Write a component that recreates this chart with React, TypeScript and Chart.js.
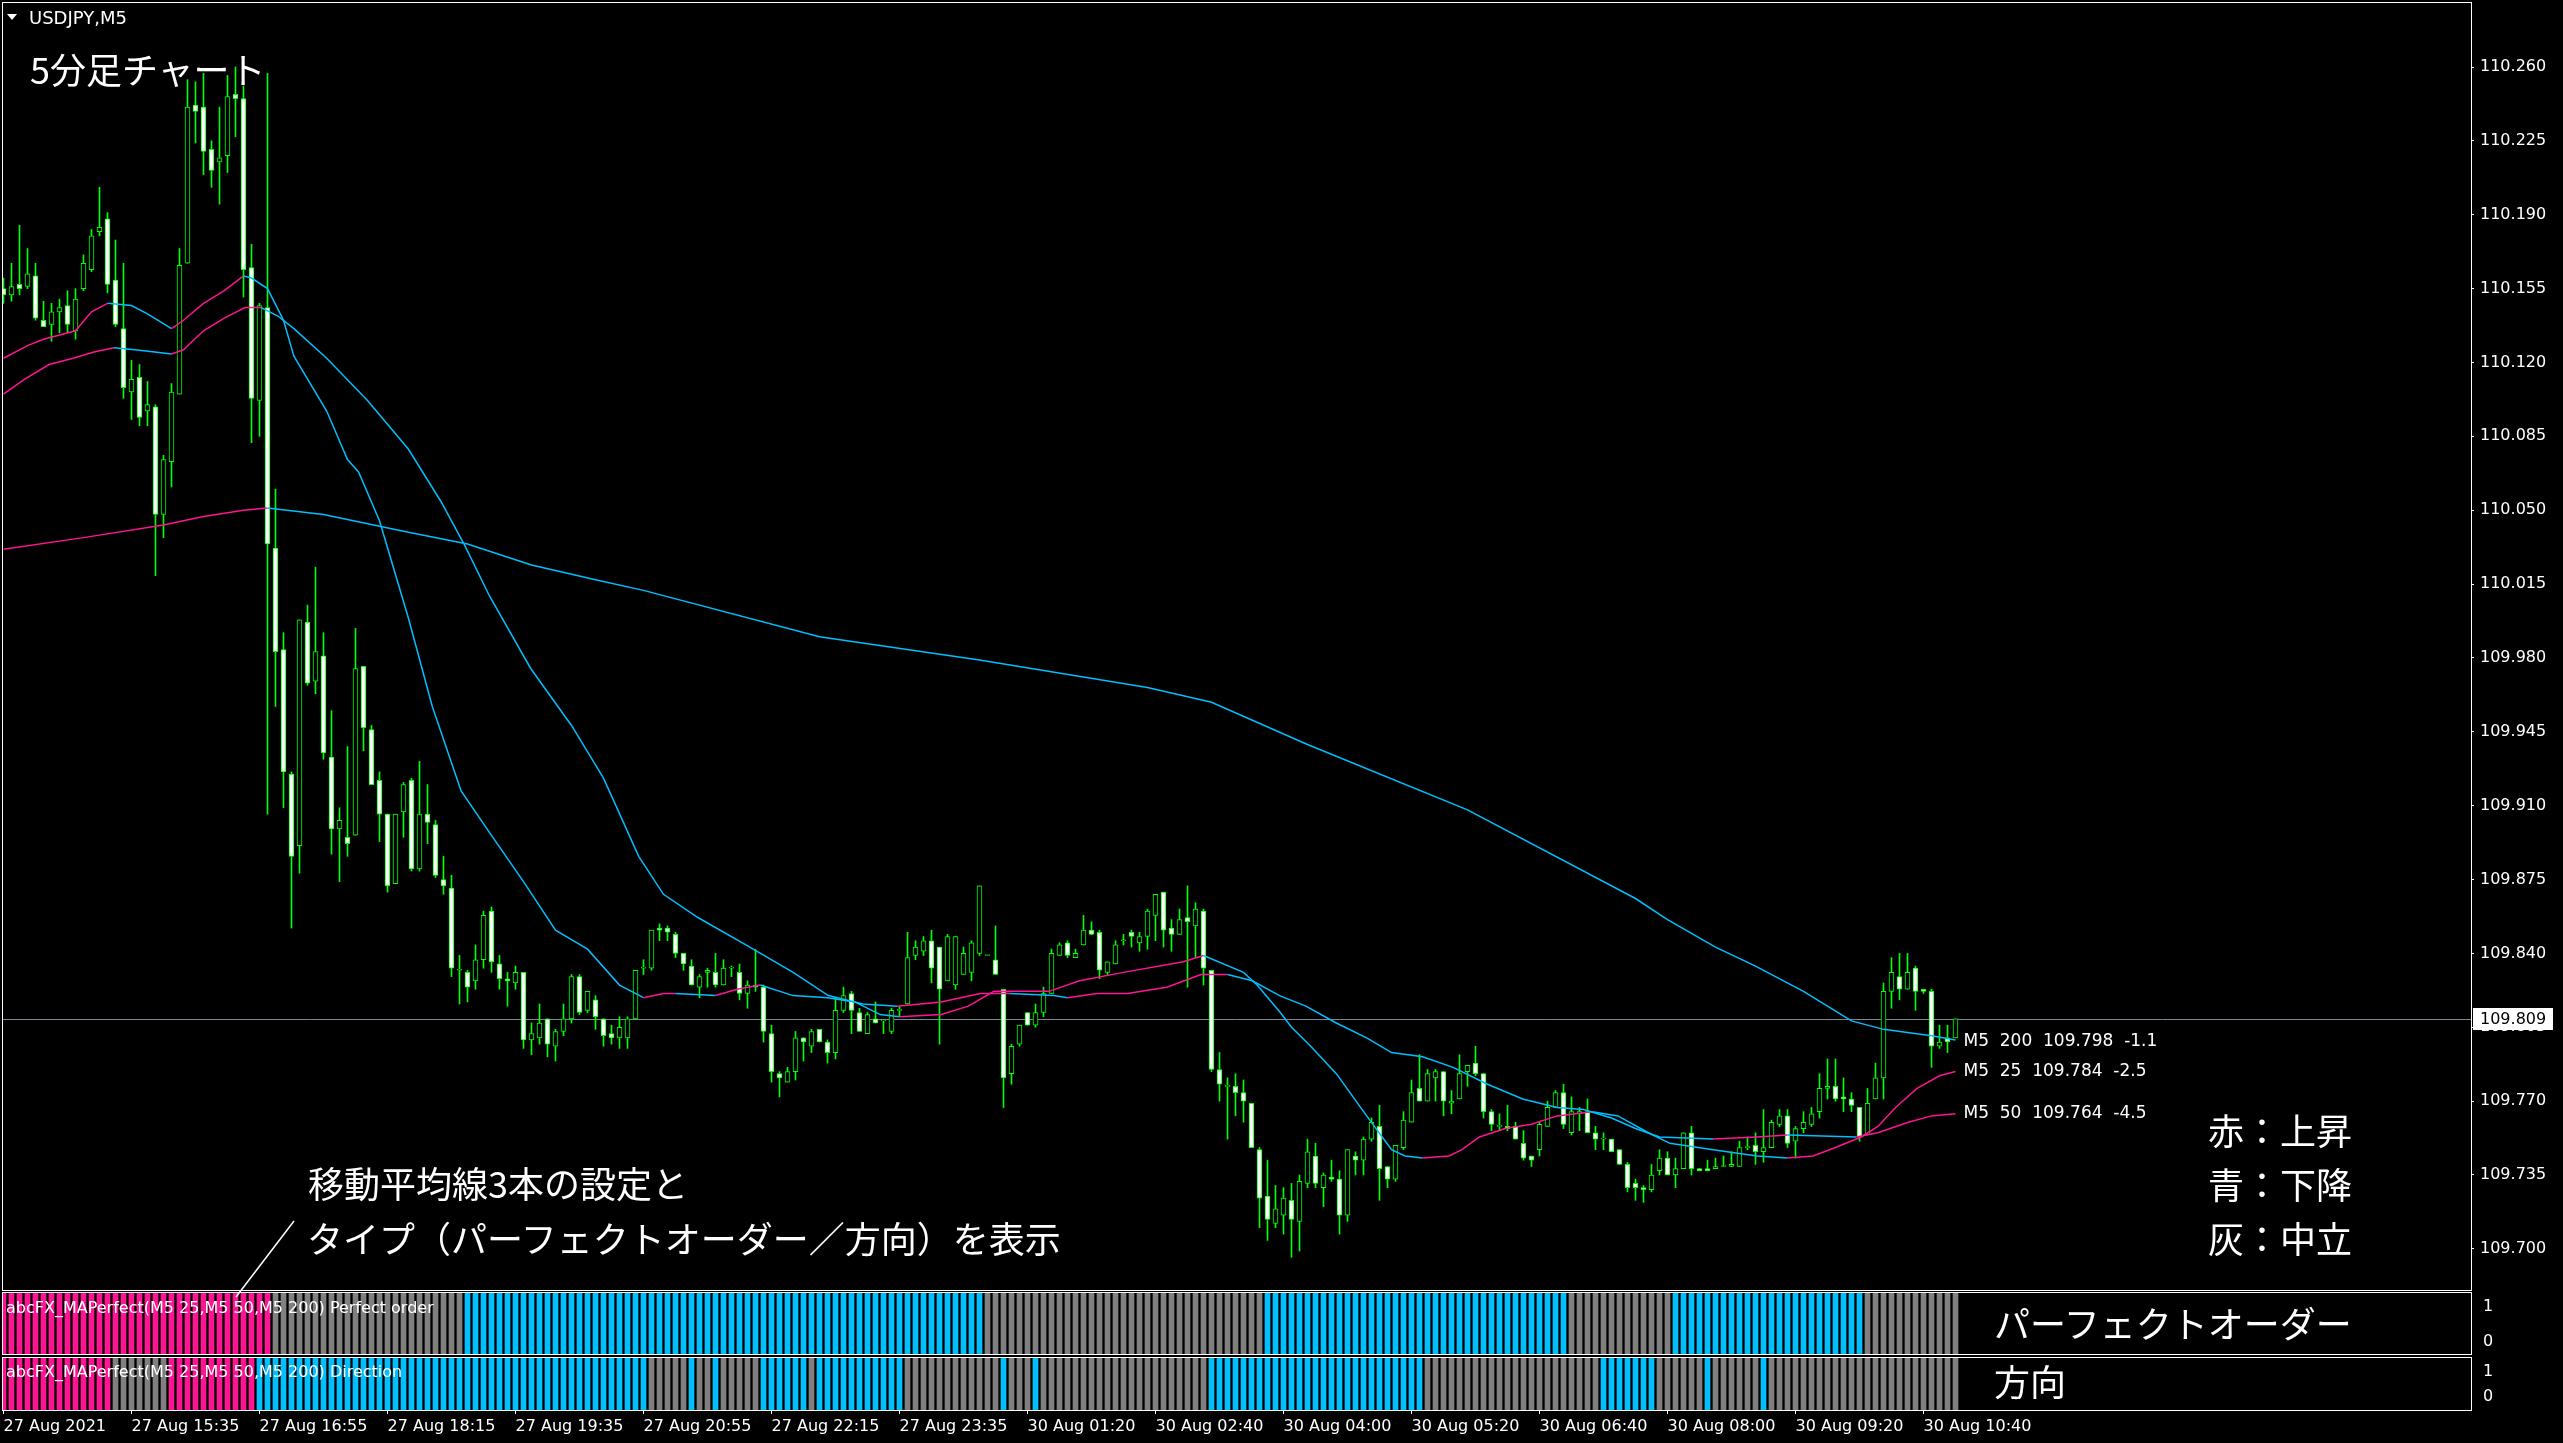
import React, { useEffect, useRef } from 'react';
import { Chart, registerables } from 'chart.js';

Chart.register(...registerables);

// ---------------- data ----------------
const symbolTitle = 'USDJPY,M5';

const opens = [
  110.155,110.152,110.157,110.156,110.161,110.140,110.138,110.144,110.147,110.135,
  110.155,110.164,110.182,110.188,110.159,110.136,110.106,110.113,110.097,110.099,
  110.048,110.073,110.105,110.167,110.242,110.241,110.221,110.215,110.218,110.247,
  110.245,110.165,110.102,110.146,110.032,109.984,109.925,109.891,109.997,109.969,
  109.981,109.933,109.899,109.895,109.896,109.976,109.946,109.922,109.906,109.873,
  109.907,109.922,109.880,109.906,109.901,109.875,109.871,109.832,109.831,109.827,
  109.837,109.860,109.835,109.828,109.826,109.831,109.799,109.800,109.809,109.796,
  109.803,109.809,109.829,109.813,109.818,109.809,109.802,109.800,109.800,109.809,
  109.833,109.833,109.852,109.852,109.849,109.840,109.834,109.824,109.831,109.831,
  109.825,109.833,109.831,109.821,109.825,109.824,109.802,109.783,109.779,109.784,
  109.800,109.796,109.804,109.798,109.793,109.813,109.821,109.812,109.802,109.809,
  109.808,109.803,109.813,109.816,109.839,109.841,109.846,109.843,109.827,109.825,
  109.830,109.831,109.840,109.839,109.837,109.823,109.783,109.797,109.812,109.806,
  109.812,109.821,109.839,109.845,109.838,109.844,109.851,109.850,109.831,109.835,
  109.846,109.850,109.845,109.848,109.858,109.869,109.852,109.849,109.857,109.853,
  109.860,109.832,109.785,109.777,109.777,109.774,109.769,109.747,109.725,109.712,
  109.716,109.723,109.713,109.731,109.744,109.729,109.734,109.733,109.716,109.744,
  109.742,109.752,109.758,109.739,109.733,109.748,109.760,109.776,109.770,109.781,
  109.784,109.769,109.771,109.784,109.788,109.783,109.765,109.758,109.758,109.758,
  109.750,109.744,109.747,109.758,109.767,109.774,109.755,109.764,109.765,109.755,
  109.752,109.752,109.747,109.740,109.731,109.729,109.728,109.737,109.743,109.735,
  109.738,109.755,109.738,109.738,109.738,109.739,109.739,109.739,109.748,109.749,
  109.746,109.748,109.759,109.763,109.751,109.757,109.759,109.765,109.776,109.777,
  109.772,109.771,109.767,109.754,109.771,109.781,109.822,109.829,109.823,109.833,
  109.823,109.822,109.796,109.800,109.800,
];

const highs = [
  110.160,110.167,110.185,110.174,110.167,110.149,110.148,110.150,110.154,110.155,
  110.171,110.183,110.203,110.191,110.178,110.167,110.121,110.119,110.111,110.100,
  110.076,110.110,110.174,110.254,110.253,110.257,110.225,110.241,110.256,110.260,
  110.251,110.176,110.148,110.257,110.060,109.992,109.926,109.998,110.005,110.023,
  109.992,109.955,109.909,109.938,109.994,109.976,109.948,109.926,109.906,109.906,
  109.921,109.923,109.931,109.920,109.903,109.886,109.877,109.839,109.832,109.844,
  109.860,109.862,109.839,109.831,109.834,109.831,109.807,109.816,109.809,109.804,
  109.816,109.830,109.830,109.822,109.820,109.809,109.806,109.810,109.810,109.832,
  109.837,109.851,109.854,109.853,109.850,109.840,109.837,109.830,109.833,109.840,
  109.837,109.834,109.835,109.827,109.842,109.825,109.806,109.784,109.786,109.803,
  109.800,109.804,109.804,109.799,109.819,109.824,109.822,109.814,109.812,109.817,
  109.808,109.814,109.815,109.850,109.846,109.848,109.851,109.843,109.849,109.848,
  109.843,109.846,109.872,109.839,109.853,109.823,109.797,109.806,109.812,109.816,
  109.824,109.842,109.845,109.846,109.842,109.858,109.855,109.851,109.836,109.846,
  109.849,109.851,109.850,109.861,109.868,109.869,109.856,109.861,109.872,109.864,
  109.861,109.832,109.793,109.781,109.783,109.780,109.769,109.748,109.742,109.730,
  109.729,109.731,109.735,109.752,109.750,109.736,109.742,109.737,109.747,109.746,
  109.753,109.762,109.768,109.739,109.749,109.765,109.780,109.792,109.785,109.785,
  109.784,109.775,109.792,109.787,109.796,109.783,109.766,109.764,109.768,109.760,
  109.756,109.744,109.760,109.770,109.775,109.778,109.772,109.767,109.771,109.758,
  109.755,109.752,109.747,109.741,109.733,109.730,109.740,109.747,109.746,109.743,
  109.755,109.758,109.738,109.742,109.743,109.744,109.746,109.751,109.753,109.755,
  109.766,109.761,109.766,109.766,109.758,109.765,109.767,109.783,109.790,109.790,
  109.781,109.774,109.767,109.776,109.788,109.826,109.838,109.840,109.840,109.834,
  109.823,109.823,109.806,109.806,109.809,
];

const lows = [
  110.148,110.149,110.152,110.155,110.140,110.137,110.130,110.134,110.134,110.131,
  110.154,110.163,110.180,110.153,110.137,110.103,110.093,110.090,110.090,110.019,
  110.037,110.061,110.105,110.167,110.224,110.209,110.203,110.195,110.210,110.227,
  110.151,110.082,110.085,109.906,109.957,109.909,109.852,109.878,109.967,109.963,
  109.932,109.887,109.874,109.886,109.896,109.936,109.920,109.893,109.869,109.873,
  109.895,109.879,109.879,109.892,109.876,109.868,109.829,109.816,109.817,109.823,
  109.833,109.831,109.823,109.815,109.823,109.795,109.792,109.797,109.791,109.789,
  109.801,109.807,109.811,109.812,109.804,109.796,109.797,109.795,109.795,109.809,
  109.830,109.832,109.846,109.846,109.838,109.832,109.825,109.819,109.824,109.824,
  109.825,109.829,109.818,109.814,109.822,109.798,109.779,109.772,109.779,109.780,
  109.789,109.793,109.798,109.788,109.790,109.812,109.802,109.803,109.802,109.807,
  109.802,109.802,109.810,109.816,109.837,109.839,109.826,109.797,109.827,109.823,
  109.830,109.827,109.839,109.839,109.830,109.767,109.778,109.796,109.806,109.805,
  109.810,109.821,109.839,109.838,109.838,109.844,109.849,109.828,109.830,109.835,
  109.844,109.843,109.841,109.842,109.846,109.843,109.841,109.849,109.824,109.838,
  109.825,109.784,109.770,109.752,109.763,109.760,109.748,109.710,109.704,109.710,
  109.707,109.696,109.699,109.729,109.729,109.720,109.732,109.707,109.713,109.735,
  109.735,109.751,109.723,109.729,109.732,109.747,109.760,109.770,109.770,109.770,
  109.763,109.764,109.771,109.777,109.782,109.762,109.756,109.756,109.756,109.752,
  109.742,109.739,109.744,109.758,109.767,109.757,109.754,109.756,109.755,109.747,
  109.747,109.746,109.740,109.727,109.723,109.722,109.727,109.735,109.735,109.729,
  109.738,109.735,109.737,109.737,109.738,109.739,109.739,109.739,109.747,109.740,
  109.741,109.748,109.758,109.748,109.743,109.755,109.758,109.762,109.771,109.770,
  109.765,109.765,109.751,109.754,109.771,109.771,109.814,109.818,109.823,109.813,
  109.821,109.786,109.795,109.793,109.800,
];

const closes = [
  110.152,110.156,110.155,110.162,110.141,110.137,110.144,110.146,110.138,110.150,
  110.167,110.180,110.184,110.157,110.138,110.108,110.112,110.094,110.100,110.048,
  110.074,110.106,110.166,110.241,110.239,110.220,110.211,110.217,110.246,110.245,
  110.164,110.103,110.147,110.034,109.983,109.926,109.886,109.998,109.968,109.983,
  109.935,109.899,109.903,109.892,109.975,109.947,109.920,109.906,109.872,109.906,
  109.920,109.880,109.906,109.902,109.877,109.872,109.833,109.832,109.824,109.837,
  109.858,109.836,109.828,109.827,109.831,109.799,109.802,109.807,109.797,109.803,
  109.809,109.829,109.812,109.822,109.810,109.801,109.800,109.805,109.809,109.832,
  109.833,109.851,109.851,109.850,109.840,109.835,109.825,109.829,109.832,109.825,
  109.833,109.833,109.821,109.825,109.824,109.803,109.784,109.781,109.784,109.800,
  109.798,109.803,109.798,109.793,109.813,109.820,109.813,109.803,109.811,109.807,
  109.808,109.813,109.813,109.838,109.843,109.846,109.833,109.823,109.848,109.848,
  109.840,109.845,109.872,109.839,109.830,109.781,109.796,109.806,109.806,109.812,
  109.821,109.840,109.844,109.839,109.840,109.851,109.849,109.832,109.836,109.844,
  109.846,109.848,109.848,109.860,109.868,109.851,109.849,109.856,109.855,109.861,
  109.833,109.785,109.778,109.777,109.774,109.770,109.748,109.724,109.714,109.719,
  109.724,109.714,109.732,109.746,109.731,109.735,109.733,109.716,109.747,109.742,
  109.752,109.760,109.738,109.733,109.749,109.761,109.774,109.770,109.783,109.784,
  109.770,109.770,109.783,109.787,109.783,109.765,109.759,109.758,109.757,109.752,
  109.743,109.742,109.759,109.767,109.774,109.759,109.765,109.765,109.755,109.752,
  109.752,109.746,109.740,109.729,109.729,109.728,109.735,109.743,109.735,109.738,
  109.755,109.738,109.737,109.737,109.739,109.739,109.740,109.748,109.748,109.746,
  109.748,109.760,109.763,109.750,109.757,109.760,109.764,109.776,109.777,109.771,
  109.771,109.768,109.753,109.769,109.781,109.822,109.831,109.823,109.831,109.822,
  109.822,109.796,109.798,109.798,109.809,
];

// moving averages: [bar index, price]
const ma25: [number, number][] = [
  [0,110.122],[3,110.128],[5,110.131],[9,110.135],[11,110.144],[13,110.148],[16,110.147],[18,110.143],
  [21,110.136],[22.5,110.140],[25,110.148],[27.6,110.154],[30,110.161],[31,110.160],[33,110.155],
  [35,110.140],[36.3,110.123],[40.4,110.097],[43,110.074],[44.4,110.068],[47,110.045],[50.6,109.999],
  [53.6,109.957],[57.2,109.917],[60.8,109.897],[65,109.874],[69,109.851],[73,109.842],[77,109.825],
  [80,109.819],[82.5,109.821],[84,109.821],[89,109.820],[91.7,109.823],[94.6,109.825],[98.7,109.820],
  [103,109.819],[106.4,109.817],[109.6,109.811],[112,109.810],[117.2,109.811],[120.6,109.815],
  [123.8,109.822],[127.5,109.822],[130.7,109.822],[134.5,109.827],[140,109.831],[147.5,109.836],
  [150,109.839],[155,109.831],[156.7,109.825],[159.6,109.812],[161,109.805],[163.4,109.796],
  [166.6,109.783],[170.4,109.763],[173.5,109.747],[175.2,109.744],[177.4,109.743],[180.7,109.744],
  [182.3,109.747],[184.5,109.753],[187.7,109.757],[191,109.759],[194.2,109.763],[198.6,109.765],
  [201.8,109.763],[205.6,109.755],[208.3,109.750],[213.7,109.747],[219.2,109.744],[223,109.743],
  [226.2,109.744],[229,109.748],[232.2,109.753],[234.3,109.758],[236.5,109.767],[239.2,109.776],
  [242,109.782],[244,109.784],
];

const ma50: [number, number][] = [
  [0,110.105],[2.6,110.112],[5.7,110.119],[8.7,110.122],[11.3,110.125],[13.8,110.127],[16.4,110.126],
  [18.9,110.125],[21,110.124],[22.5,110.126],[25,110.135],[27.6,110.141],[30.2,110.146],[32.2,110.146],
  [34.3,110.142],[36.3,110.136],[40.4,110.122],[45.5,110.102],[50.6,110.079],[54.7,110.054],
  [57.7,110.033],[60.8,110.009],[65.9,109.975],[71,109.948],[75,109.923],[79.4,109.886],[82.5,109.868],
  [86.8,109.857],[92.8,109.844],[98.7,109.831],[103.1,109.820],[107.4,109.816],[111.7,109.815],
  [117.2,109.817],[122.1,109.821],[125.8,109.821],[131.3,109.820],[133,109.819],[136.7,109.821],
  [140.5,109.821],[145.4,109.824],[149.7,109.830],[153,109.830],[156.1,109.827],[159.5,109.820],
  [162.8,109.815],[166.6,109.807],[170.4,109.800],[173.5,109.793],[177.4,109.791],[181.2,109.786],
  [185.5,109.778],[189.9,109.771],[194.2,109.767],[197.5,109.766],[201,109.762],[204,109.757],
  [207,109.753],[213.7,109.752],[219.2,109.753],[223,109.754],[231.6,109.753],[234.3,109.755],
  [238.1,109.760],[241,109.763],[244,109.764],
];

const ma200: [number, number][] = [
  [0,110.0315],[10,110.037],[20,110.043],[25,110.047],[30,110.050],[33,110.051],[40,110.048],
  [50,110.040],[58,110.034],[66,110.024],[74,110.017],[80,110.012],[102,109.990],[122,109.979],
  [143,109.966],[151,109.959],[163,109.939],[183,109.908],[204,109.866],[208,109.856],[214,109.843],
  [219,109.834],[225,109.822],[231,109.808],[235,109.804],[241,109.801],[244,109.799],
];

const maLegend = [
  { label: 'M5  200  109.798  -1.1', value: 109.798 },
  { label: 'M5  25  109.784  -2.5', value: 109.784 },
  { label: 'M5  50  109.764  -4.5', value: 109.764 },
];

const priceTicks = [
  110.26, 110.225, 110.19, 110.155, 110.12, 110.085, 110.05, 110.015, 109.98,
  109.945, 109.91, 109.875, 109.84, 109.805, 109.77, 109.735, 109.7,
];

const timeTickIndex = [0, 16, 32, 48, 64, 80, 96, 112, 128, 144, 160, 176, 192, 208, 224, 240];
const timeLabels = [
  '27 Aug 2021', '27 Aug 15:35', '27 Aug 16:55', '27 Aug 18:15', '27 Aug 19:35', '27 Aug 20:55',
  '27 Aug 22:15', '27 Aug 23:35', '30 Aug 01:20', '30 Aug 02:40', '30 Aug 04:00', '30 Aug 05:20',
  '30 Aug 06:40', '30 Aug 08:00', '30 Aug 09:20', '30 Aug 10:40',
];

// indicator states per bar as runs: [state, count]  (1 = up, 0 = neutral, -1 = down)
const perfectOrderRuns: [number, number][] = [
  [1, 34], [0, 24], [-1, 65], [0, 35], [-1, 38], [0, 13], [-1, 24], [0, 12],
];
const directionRuns: [number, number][] = [
  [1, 14], [0, 7], [1, 11], [-1, 49], [0, 5], [-1, 1], [0, 2], [-1, 1], [0, 5], [-1, 6], [0, 1],
  [-1, 11], [0, 12], [-1, 1], [0, 3], [-1, 1], [0, 21], [-1, 27], [0, 22], [-1, 7], [0, 6], [-1, 1],
  [0, 6], [-1, 1], [0, 24],
];
const panelTicks = [1, 0];

const perfectOrderName = 'abcFX_MAPerfect(M5 25,M5 50,M5 200) Perfect order';
const directionName = 'abcFX_MAPerfect(M5 25,M5 50,M5 200) Direction';

// ---------------- style ----------------
const UP_COLOR = '#ff1493';
const DOWN_COLOR = '#00bfff';
const FLAT_COLOR = '#808080';
const CANDLE_COLOR = '#00ff00';
const BID_COLOR = '#778899';
const stateColor: Record<string, string> = { '1': UP_COLOR, '0': FLAT_COLOR, '-1': DOWN_COLOR };

const PAGE_W = 2563;
const PAGE_H = 1443;
const AXIS_W = 92;
const X_MIN = -0.1875;
const X_MAX = 308.4375;
const Y_MIN = 109.6805;
const Y_MAX = 110.2908;
const AXIS_FONT = { family: 'DejaVu Sans', size: 16 };
const CJK = '"Noto Sans CJK JP", "Noto Sans CJK SC", sans-serif';

const expandRuns = (runs: [number, number][]) => runs.flatMap(([s, n]) => Array(n).fill(s));

const noPad = (s: any) => {
  s.paddingTop = 0;
  s.paddingBottom = 0;
  s.paddingLeft = 0;
  s.paddingRight = 0;
};

const xScale = (show: boolean): any => ({
  type: 'linear',
  min: X_MIN,
  max: X_MAX,
  offset: false,
  display: show,
  grid: { offset: false, display: show, drawOnChartArea: false, drawTicks: true, tickLength: 4, color: '#ffffff' },
  border: { display: false },
  afterBuildTicks: (s: any) => {
    s.ticks = timeTickIndex.map((v) => ({ value: v }));
  },
  afterFit: (s: any) => {
    if (show) s.height = 33;
    noPad(s);
  },
  ticks: {
    display: show,
    autoSkip: false,
    maxRotation: 0,
    minRotation: 0,
    align: 'start',
    padding: 3,
    color: '#ffffff',
    font: AXIS_FONT,
    callback: (_v: any, i: number) => timeLabels[i] ?? '',
  },
});

const framePlugin = {
  id: 'frame',
  afterDraw(chart: any) {
    const { ctx, chartArea: a } = chart;
    ctx.save();
    ctx.strokeStyle = '#ffffff';
    ctx.lineWidth = 1;
    ctx.strokeRect(a.left + 0.5, a.top + 0.5, a.right - a.left, a.bottom - a.top);
    ctx.restore();
  },
};

const lastPrice = closes[closes.length - 1];

const mainDecor = {
  id: 'mainDecor',
  beforeDatasetsDraw(chart: any) {
    const { ctx, chartArea: a, scales } = chart;
    const y = Math.round(scales.y.getPixelForValue(lastPrice)) + 0.5;
    ctx.save();
    ctx.strokeStyle = BID_COLOR;
    ctx.lineWidth = 1;
    ctx.beginPath();
    ctx.moveTo(a.left, y);
    ctx.lineTo(a.right, y);
    ctx.stroke();
    ctx.restore();
  },
  afterDatasetsDraw(chart: any) {
    const { ctx, scales } = chart;
    ctx.save();
    ctx.fillStyle = '#ffffff';
    ctx.font = '17px "DejaVu Sans"';
    ctx.textBaseline = 'middle';
    ctx.textAlign = 'left';
    const lx = scales.x.getPixelForValue(closes.length);
    maLegend.forEach((m) => ctx.fillText(m.label, lx, scales.y.getPixelForValue(m.value)));
    ctx.restore();
  },
  afterDraw(chart: any) {
    const { ctx, chartArea: a, scales } = chart;
    const y = scales.y.getPixelForValue(lastPrice);
    ctx.save();
    ctx.fillStyle = '#ffffff';
    ctx.fillRect(a.right + 2, Math.round(y) - 11, 80, 22);
    ctx.fillStyle = '#000000';
    ctx.font = '16px "DejaVu Sans"';
    ctx.textBaseline = 'middle';
    ctx.textAlign = 'left';
    ctx.fillText(lastPrice.toFixed(3), a.right + 9, y + 1);
    ctx.restore();
  },
};

function MainChart() {
  const ref = useRef<HTMLCanvasElement>(null);
  useEffect(() => {
    const idx = opens.map((_, i) => i);
    const bodies = idx.map((i) => ({ x: i, y: [opens[i], closes[i]] }));
    const wicks = idx.map((i) => ({ x: i, y: [lows[i], highs[i]] }));
    const bodyFill = idx.map((i) => (closes[i] < opens[i] ? '#ffffff' : '#000000'));
    const seg = {
      borderColor: (c: any) => (c.p1.parsed.y >= c.p0.parsed.y ? UP_COLOR : DOWN_COLOR),
    };
    const maSet = (pts: [number, number][], label: string): any => ({
      type: 'line',
      label,
      data: pts.map(([x, y]) => ({ x, y })),
      borderWidth: 1.5,
      borderColor: DOWN_COLOR,
      pointRadius: 0,
      tension: 0,
      segment: seg,
      order: 0,
    });
    const chart = new Chart(ref.current as HTMLCanvasElement, {
      type: 'bar',
      data: {
        datasets: [
          maSet(ma200, 'MA200'),
          maSet(ma50, 'MA50'),
          maSet(ma25, 'MA25'),
          {
            type: 'bar',
            label: 'body',
            data: bodies as any,
            backgroundColor: bodyFill,
            borderColor: CANDLE_COLOR,
            borderWidth: 1,
            borderSkipped: false,
            barThickness: 5,
            minBarLength: 1,
            grouped: false,
            order: 1,
          } as any,
          {
            type: 'bar',
            label: 'wick',
            data: wicks as any,
            backgroundColor: CANDLE_COLOR,
            borderWidth: 0,
            barThickness: 1,
            grouped: false,
            order: 2,
          } as any,
        ],
      },
      options: {
        responsive: false,
        animation: false,
        events: [],
        layout: { padding: { left: 2, top: 2, right: 0, bottom: 2 } },
        plugins: { legend: { display: false }, tooltip: { enabled: false } },
        scales: {
          x: xScale(false),
          y: {
            type: 'linear',
            position: 'right',
            min: Y_MIN,
            max: Y_MAX,
            beginAtZero: false,
            afterBuildTicks: (s: any) => {
              s.ticks = priceTicks.map((v) => ({ value: v }));
            },
            afterFit: (s: any) => {
              s.width = AXIS_W;
              noPad(s);
            },
            grid: { drawOnChartArea: false, drawTicks: true, tickLength: 3, color: '#ffffff' },
            border: { display: false },
            ticks: {
              color: '#ffffff',
              font: AXIS_FONT,
              padding: 6,
              autoSkip: false,
              callback: (v: any) => Number(v).toFixed(3),
            },
          } as any,
        },
      } as any,
      plugins: [mainDecor, framePlugin],
    });
    return () => chart.destroy();
  }, []);
  return (
    <canvas ref={ref} width={PAGE_W} height={1292} style={{ position: 'absolute', left: 0, top: 0 }} />
  );
}

function IndicatorPanel(props: {
  runs: [number, number][];
  name: string;
  top: number;
  height: number;
  padTop: number;
  padBottom: number;
  labelMin: number;
  labelMax: number;
  nameOffset: number;
  showTime: boolean;
}) {
  const ref = useRef<HTMLCanvasElement>(null);
  useEffect(() => {
    const states = expandRuns(props.runs);
    const namePlugin = {
      id: 'panelName',
      afterDatasetsDraw(chart: any) {
        const { ctx, chartArea: a } = chart;
        ctx.save();
        ctx.fillStyle = '#ffffff';
        ctx.font = '16px "DejaVu Sans"';
        ctx.textBaseline = 'middle';
        ctx.textAlign = 'left';
        ctx.fillText(props.name, a.left + 4, a.top + props.nameOffset);
        ctx.restore();
      },
    };
    const chart = new Chart(ref.current as HTMLCanvasElement, {
      type: 'bar',
      data: {
        datasets: [
          {
            data: states.map((_s, i) => ({ x: i, y: 1 })) as any,
            backgroundColor: states.map((s) => stateColor[String(s)]),
            borderWidth: 0,
            barThickness: 5,
            grouped: false,
            yAxisID: 'y',
          } as any,
        ],
      },
      options: {
        responsive: false,
        animation: false,
        events: [],
        layout: { padding: { left: 2, right: 0, top: props.padTop, bottom: props.padBottom } },
        plugins: { legend: { display: false }, tooltip: { enabled: false } },
        scales: {
          x: xScale(props.showTime),
          y: { type: 'linear', display: false, min: 0, max: 1, beginAtZero: false },
          yl: {
            type: 'linear',
            position: 'right',
            min: props.labelMin,
            max: props.labelMax,
            afterBuildTicks: (s: any) => {
              s.ticks = panelTicks.map((v) => ({ value: v }));
            },
            afterFit: (s: any) => {
              s.width = AXIS_W;
              noPad(s);
            },
            grid: { display: false },
            border: { display: false },
            ticks: { color: '#ffffff', font: AXIS_FONT, padding: 4, callback: (v: any) => String(v) },
          },
        },
      } as any,
      plugins: [namePlugin, framePlugin],
    });
    return () => chart.destroy();
  }, []);
  return (
    <canvas
      ref={ref}
      width={PAGE_W}
      height={props.height}
      style={{ position: 'absolute', left: 0, top: props.top }}
    />
  );
}

const textStyle = (left: number, top: number, size = 36): React.CSSProperties => ({
  position: 'absolute',
  left,
  top,
  color: '#ffffff',
  fontFamily: CJK,
  fontSize: size,
  lineHeight: `${size}px`,
  whiteSpace: 'nowrap',
});

export default function App() {
  useEffect(() => {
    document.body.style.margin = '0';
    document.body.style.background = '#000';
  }, []);
  return (
    <div
      style={{
        position: 'fixed',
        left: 0,
        top: 0,
        width: PAGE_W,
        height: PAGE_H,
        background: '#000000',
        overflow: 'hidden',
      }}
    >
      <MainChart />
      <IndicatorPanel
        runs={perfectOrderRuns}
        name={perfectOrderName}
        top={1290}
        height={66}
        padTop={2}
        padBottom={2}
        labelMin={-0.351}
        labelMax={1.42}
        nameOffset={17}
        showTime={false}
      />
      <IndicatorPanel
        runs={directionRuns}
        name={directionName}
        top={1354}
        height={89}
        padTop={3}
        padBottom={0}
        labelMin={-0.532}
        labelMax={1.588}
        nameOffset={16}
        showTime={true}
      />
      <div
        style={{
          position: 'absolute',
          left: 7,
          top: 14,
          width: 0,
          height: 0,
          borderLeft: '5px solid transparent',
          borderRight: '5px solid transparent',
          borderTop: '6px solid #ffffff',
        }}
      />
      <div
        style={{
          position: 'absolute',
          left: 29,
          top: 9,
          color: '#ffffff',
          fontFamily: '"DejaVu Sans", sans-serif',
          fontSize: 18,
          lineHeight: '18px',
          whiteSpace: 'nowrap',
        }}
      >
        {symbolTitle}
      </div>
      <div style={textStyle(30, 50)}>5分足チャート</div>
      <div style={textStyle(308, 1164)}>移動平均線3本の設定と</div>
      <div style={textStyle(307, 1219)}>タイプ（パーフェクトオーダー／方向）を表示</div>
      <div style={textStyle(2208, 1111)}>赤：上昇</div>
      <div style={textStyle(2208, 1165)}>青：下降</div>
      <div style={textStyle(2208, 1219)}>灰：中立</div>
      <div style={textStyle(1994, 1304)}>パーフェクトオーダー</div>
      <div style={textStyle(1994, 1362)}>方向</div>
      <svg
        width={PAGE_W}
        height={PAGE_H}
        style={{ position: 'absolute', left: 0, top: 0, pointerEvents: 'none' }}
      >
        <line x1={236} y1={1297} x2={294} y2={1221} stroke="#ffffff" strokeWidth={1.5} />
      </svg>
    </div>
  );
}
